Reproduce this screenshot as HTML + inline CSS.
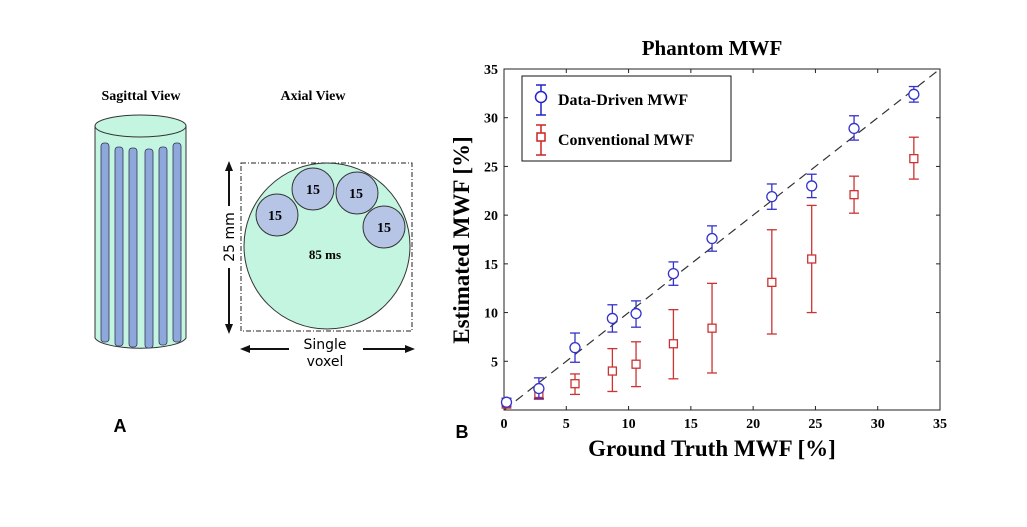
<!DOCTYPE html>
<html><head><meta charset="utf-8"><style>
body{margin:0;background:#fff;width:1027px;height:527px;overflow:hidden}
svg{display:block}
text{font-family:"Liberation Serif",serif}
</style></head><body>
<svg width="1027" height="527">
<g>
 <text x="141" y="100" font-size="14" font-weight="bold" text-anchor="middle">Sagittal View</text>
 <text x="313" y="100" font-size="14" font-weight="bold" text-anchor="middle">Axial View</text>
 <g>
  <path d="M95,126 L95,338 A46,12 0 0 0 186,338 L186,126" fill="#c4f5e0" stroke="#333" stroke-width="1"/>
  <ellipse cx="140.5" cy="126" rx="45.5" ry="11" fill="#c4f5e0" stroke="#333"/>
  <g fill="#8fa8dc" stroke="#335" stroke-width="0.8">
   <rect x="101" y="143" width="8" height="199" rx="3"/>
   <rect x="115" y="147" width="8" height="199" rx="3"/>
   <rect x="129" y="148" width="8" height="199" rx="3"/>
   <rect x="145" y="149" width="8" height="199" rx="3"/>
   <rect x="159" y="147" width="8" height="198" rx="3"/>
   <rect x="173" y="143" width="8" height="199" rx="3"/>
  </g>
 </g>
 <g>
  <rect x="241" y="163" width="171" height="168" fill="none" stroke="#222" stroke-dasharray="5,2,1,2"/>
  <circle cx="327" cy="246" r="83" fill="#c4f5e0" stroke="#333"/>
  <g fill="#b6c4e6" stroke="#333">
   <circle cx="277" cy="215" r="21"/><circle cx="313" cy="189" r="21"/>
   <circle cx="357" cy="193" r="21"/><circle cx="384" cy="227" r="21"/>
  </g>
  <g font-size="14" font-weight="bold" text-anchor="middle">
   <text x="275" y="220">15</text><text x="313" y="194">15</text>
   <text x="356" y="198">15</text><text x="384" y="232">15</text>
   <text x="325" y="259" font-size="13">85 ms</text>
  </g>
  <g stroke="#111" stroke-width="2" fill="#111">
   <line x1="229" y1="170" x2="229" y2="206"/><line x1="229" y1="268" x2="229" y2="326"/>
   <polygon points="229,161 225,171 233,171" stroke="none"/><polygon points="229,334 225,324 233,324" stroke="none"/>
   <line x1="248" y1="349" x2="289" y2="349"/><line x1="363" y1="349" x2="406" y2="349"/>
   <polygon points="240,349 250,345 250,353" stroke="none"/><polygon points="415,349 405,345 405,353" stroke="none"/>
  </g>
  <text transform="translate(234,237) rotate(-90)" font-size="14" text-anchor="middle" style="font-family:'DejaVu Sans',sans-serif">25 mm</text>
  <text x="325" y="349" font-size="14" text-anchor="middle" style="font-family:'DejaVu Sans',sans-serif">Single</text>
  <text x="325" y="366" font-size="14" text-anchor="middle" style="font-family:'DejaVu Sans',sans-serif">voxel</text>
 </g>
 <text x="120" y="432" font-size="18" font-weight="bold" text-anchor="middle" style="font-family:'Liberation Sans',sans-serif">A</text>
</g>
<text x="462" y="438" font-size="18" font-weight="bold" text-anchor="middle" style="font-family:'Liberation Sans',sans-serif">B</text>
<g id="chart"></g>
</svg>
<script>
const xs=[0.2,2.8,5.7,8.7,10.6,13.6,16.7,21.5,24.7,28.1,32.9];
const ddVal=[0.8,2.2,6.4,9.4,9.9,14.0,17.6,21.9,23.0,28.9,32.4];
const ddLo=[0.4,1.2,4.9,8.0,8.5,12.8,16.3,20.6,21.8,27.7,31.6];
const ddHi=[1.2,3.3,7.9,10.8,11.2,15.2,18.9,23.2,24.2,30.2,33.2];
const cvVal=[0.7,1.7,2.7,4.0,4.7,6.8,8.4,13.1,15.5,22.1,25.8];
const cvLo=[0.2,1.1,1.6,1.9,2.4,3.2,3.8,7.8,10.0,20.2,23.7];
const cvHi=[1.2,2.3,3.7,6.3,7.0,10.3,13.0,18.5,21.0,24.0,28.0];
const xTicks=[0,5,10,15,20,25,30,35];
const yTicks=[5,10,15,20,25,30,35];
const L=504,R=940,T=69,B=410;
const X=v=>L+(v/35)*(R-L), Y=v=>B-(v/35)*(B-T);
const NS="http://www.w3.org/2000/svg", g=document.getElementById('chart');
function mk(t,a,p){const e=document.createElementNS(NS,t);for(const k in a)e.setAttribute(k,a[k]);(p||g).appendChild(e);return e;}
const box=mk('rect',{x:L,y:T,width:R-L,height:B-T,fill:'none',stroke:'#222','stroke-width':1});


const t=mk('text',{x:712,y:55,'font-size':21,'font-weight':'bold','text-anchor':'middle'});t.textContent='Phantom MWF';


xTicks.forEach(v=>{mk('line',{x1:X(v),x2:X(v),y1:B,y2:B-4,stroke:'#222'});mk('line',{x1:X(v),x2:X(v),y1:T,y2:T+4,stroke:'#222'});
 const e=mk('text',{x:X(v),y:B+18,'font-size':14,'font-weight':'bold','text-anchor':'middle'});e.textContent=v;
 
 });
yTicks.forEach(v=>{mk('line',{x1:L,x2:L+4,y1:Y(v),y2:Y(v),stroke:'#222'});mk('line',{x1:R,x2:R-4,y1:Y(v),y2:Y(v),stroke:'#222'});
 const e=mk('text',{x:L-6,y:Y(v)+5,'font-size':14,'font-weight':'bold','text-anchor':'end'});e.textContent=v;
 
 });
const xl=mk('text',{x:712,y:456,'font-size':23,'font-weight':'bold','text-anchor':'middle'});xl.textContent='Ground Truth MWF [%]';


const yl=mk('text',{transform:'translate(469,240) rotate(-90)','font-size':23,'font-weight':'bold','text-anchor':'middle'});yl.textContent='Estimated MWF [%]';


const id=mk('line',{x1:X(0),y1:Y(0),x2:X(35),y2:Y(35),stroke:'#333','stroke-dasharray':'9,6','stroke-width':1.2});


function series(vals,lo,hi,col,shape,name){xs.forEach((x,i)=>{const cx=X(x);
 const grp=mk('g',{stroke:col,fill:'none','stroke-width':1.3});
 
 
 mk('line',{x1:cx,x2:cx,y1:Y(lo[i]),y2:Y(hi[i])},grp);
 mk('line',{x1:cx-5,x2:cx+5,y1:Y(lo[i]),y2:Y(lo[i])},grp);
 mk('line',{x1:cx-5,x2:cx+5,y1:Y(hi[i]),y2:Y(hi[i])},grp);
 if(shape==='o')mk('circle',{cx:cx,cy:Y(vals[i]),r:5,fill:'#fff'},grp);
 else mk('rect',{x:cx-4,y:Y(vals[i])-4,width:8,height:8,fill:'#fff'},grp);});}
series(cvVal,cvLo,cvHi,'#cc3333','s','conventional');
series(ddVal,ddLo,ddHi,'#3333cc','o','data-driven');
const lg=mk('g',{});


mk('rect',{x:522,y:76,width:209,height:85,fill:'#fff',stroke:'#111'},lg);
[[100,'#2222cc','o','Data-Driven MWF'],[140,'#cc2222','s','Conventional MWF']].forEach(([y,c,s,lab])=>{
 const e=mk('g',{stroke:c,fill:'none','stroke-width':1.5},lg);
 
 
 mk('line',{x1:541,x2:541,y1:y-15,y2:y+15},e);mk('line',{x1:536,x2:546,y1:y-15,y2:y-15},e);mk('line',{x1:536,x2:546,y1:y+15,y2:y+15},e);
 if(s==='o')mk('circle',{cx:541,cy:y-3,r:5.5,fill:'#fff'},e);else mk('rect',{x:537,y:y-7,width:8,height:8,fill:'#fff'},e);
 const tx=mk('text',{x:558,y:y+5,'font-size':16,'font-weight':'bold'},lg);tx.textContent=lab;});
</script>
</body></html>
